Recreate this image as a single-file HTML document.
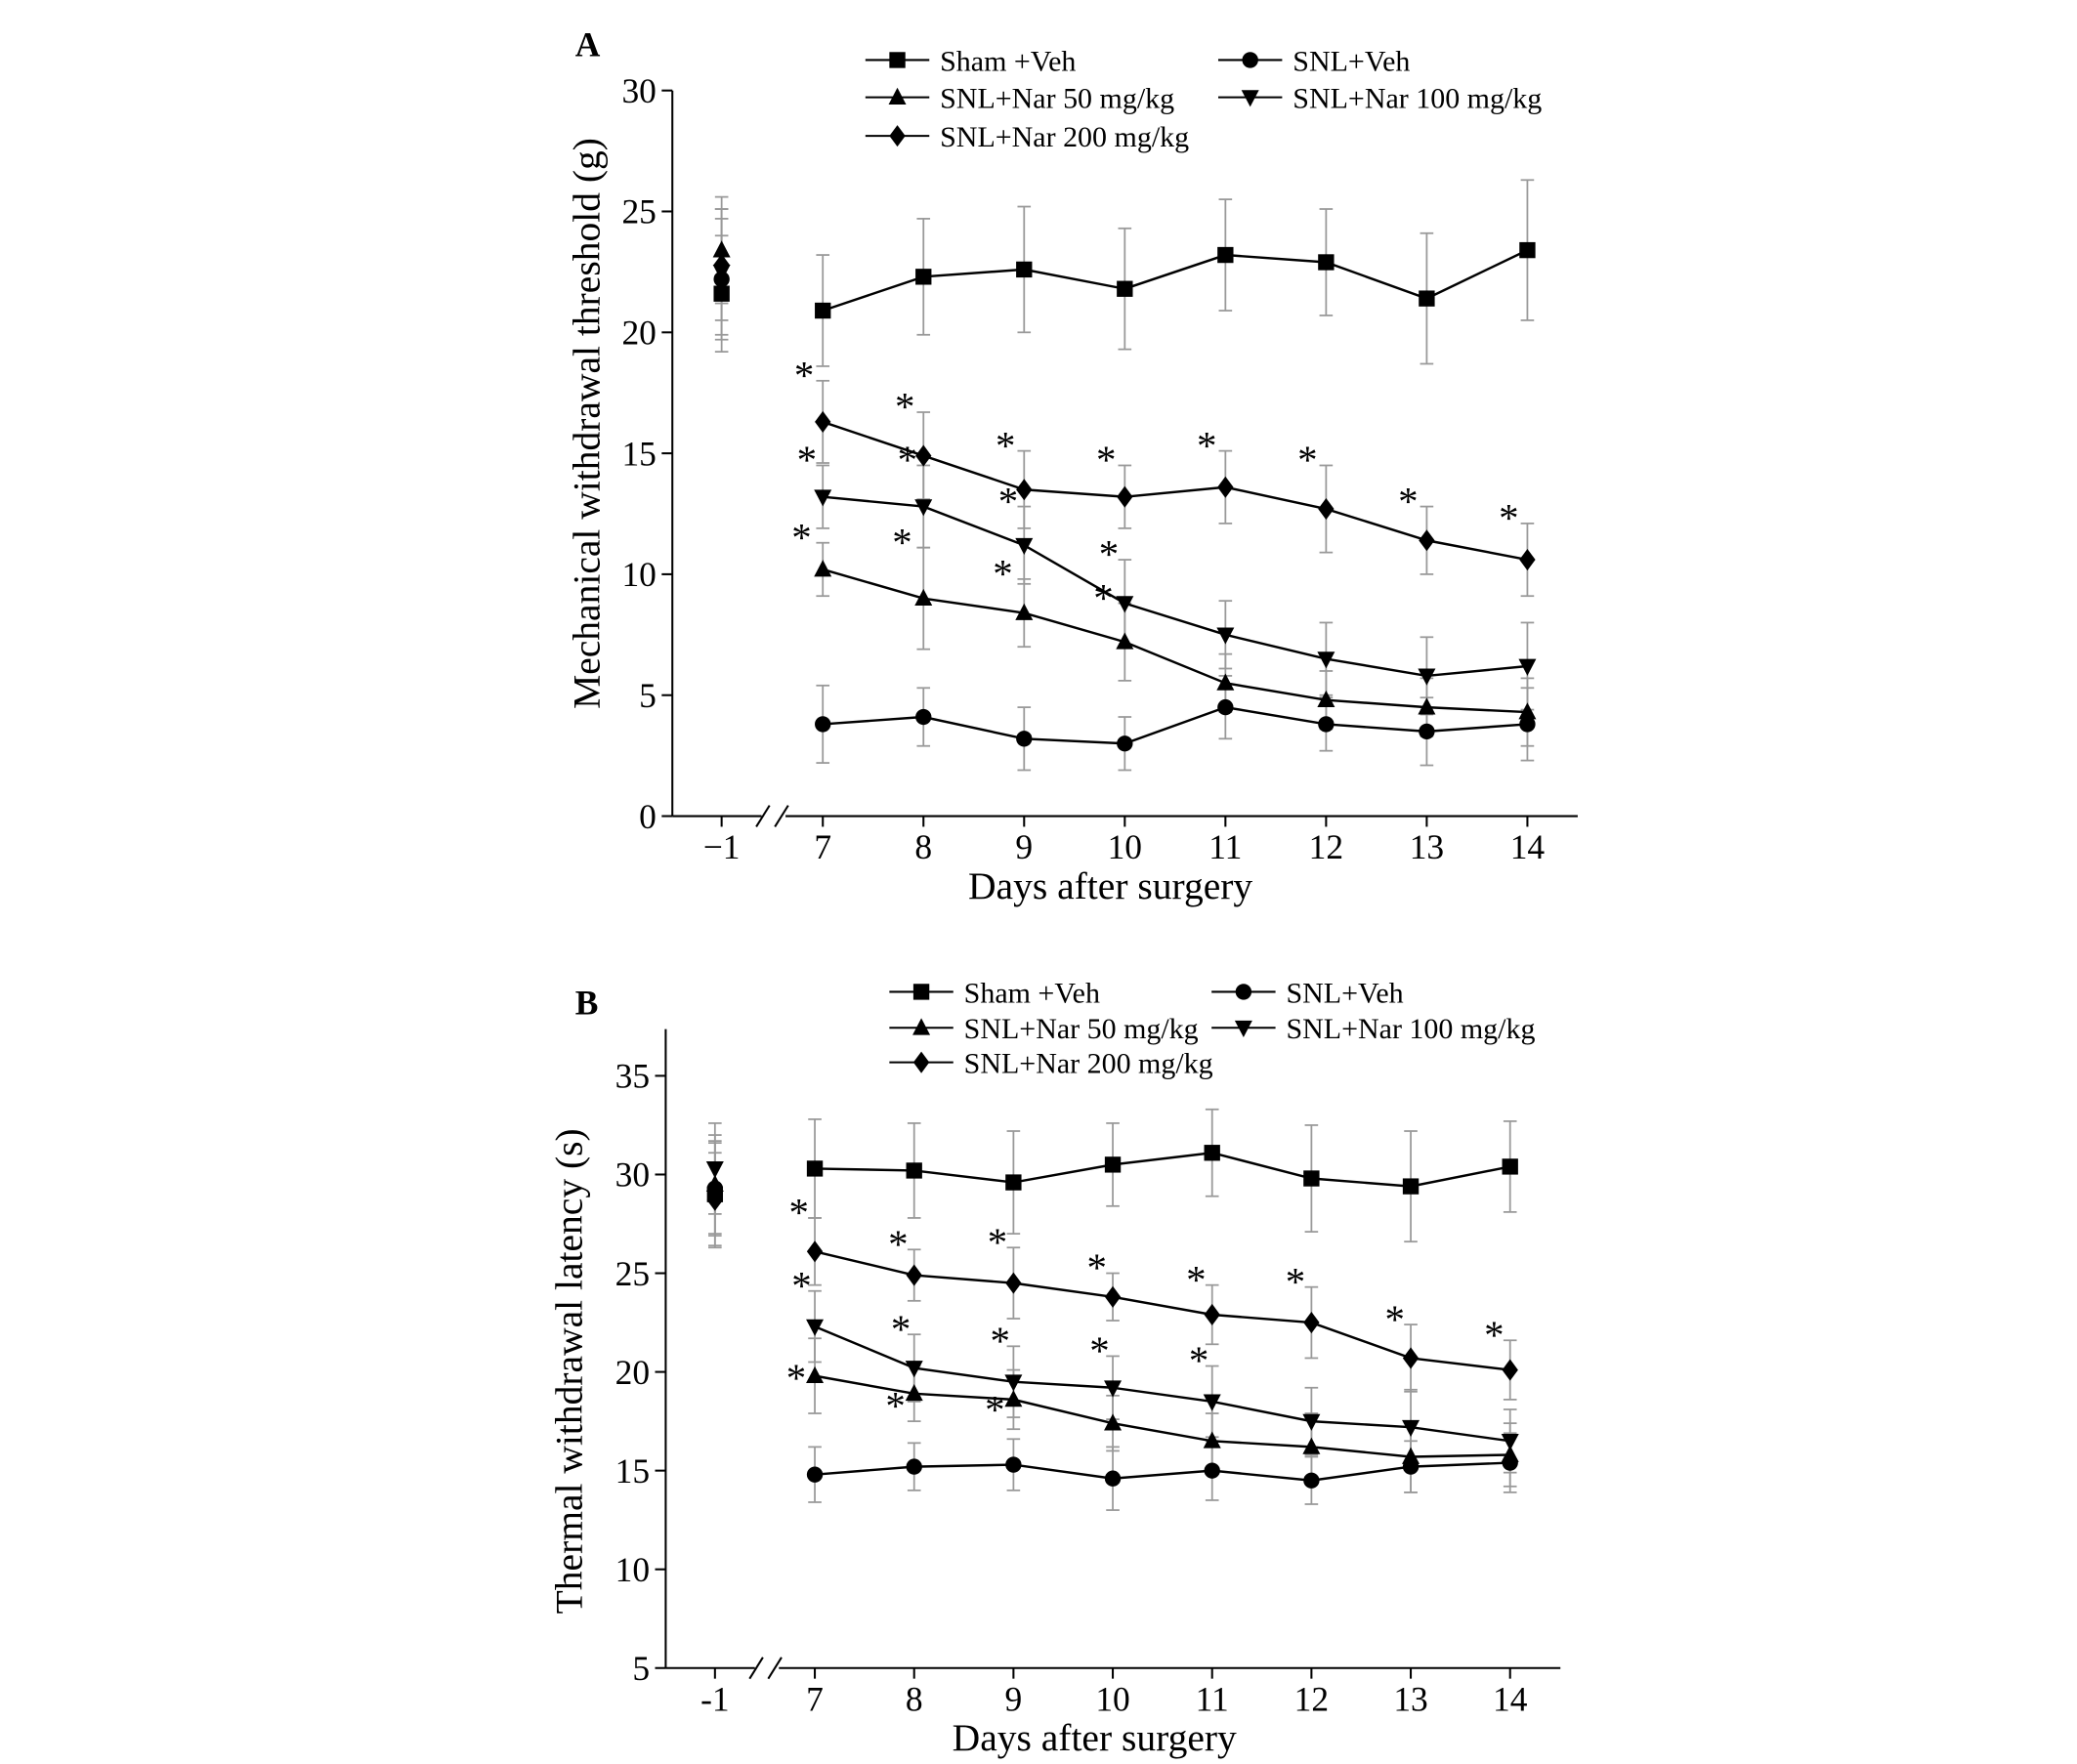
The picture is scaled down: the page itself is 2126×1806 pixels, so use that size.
<!DOCTYPE html>
<html><head><meta charset="utf-8"><style>
html,body{margin:0;padding:0;background:#fff}
svg{display:block}
text{font-family:"Liberation Serif",serif;fill:#000}
</style></head><body>
<svg id="chart" width="2126" height="1806" viewBox="0 0 1560 1325" xmlns="http://www.w3.org/2000/svg"></svg>
<script>
const days = [-1, 7, 8, 9, 10, 11, 12, 13, 14];
const seriesNames = ["Sham +Veh", "SNL+Veh", "SNL+Nar 50 mg/kg", "SNL+Nar 100 mg/kg", "SNL+Nar 200 mg/kg"];
const seriesMarkers = ["square", "circle", "up", "down", "diamond"];
// Panel A
const aSham = [21.6, 20.9, 22.3, 22.6, 21.8, 23.2, 22.9, 21.4, 23.4];
const aShamErr = [2.4, 2.3, 2.4, 2.6, 2.5, 2.3, 2.2, 2.7, 2.9];
const aVeh = [22.2, 3.8, 4.1, 3.2, 3.0, 4.5, 3.8, 3.5, 3.8];
const aVehErr = [2.5, 1.6, 1.2, 1.3, 1.1, 1.3, 1.1, 1.4, 1.5];
const aN50 = [23.4, 10.2, 9.0, 8.4, 7.2, 5.5, 4.8, 4.5, 4.3];
const aN50Err = [2.2, 1.1, 2.1, 1.4, 1.6, 1.2, 1.2, 1.2, 1.4];
const aN100 = [22.5, 13.2, 12.8, 11.2, 8.8, 7.5, 6.5, 5.8, 6.2];
const aN100Err = [2.6, 1.3, 1.7, 1.6, 1.8, 1.4, 1.5, 1.6, 1.8];
const aN200 = [22.8, 16.3, 14.9, 13.5, 13.2, 13.6, 12.7, 11.4, 10.6];
const aN200Err = [2.3, 1.7, 1.8, 1.6, 1.3, 1.5, 1.8, 1.4, 1.5];
const aStars50 = [7, 8, 9, 10];
const aStars100 = [7, 8, 9, 10];
const aStars200 = [7, 8, 9, 10, 11, 12, 13, 14];
const aYTicks = [0, 5, 10, 15, 20, 25, 30];
// Panel B
const bSham = [29.0, 30.3, 30.2, 29.6, 30.5, 31.1, 29.8, 29.4, 30.4];
const bShamErr = [2.6, 2.5, 2.4, 2.6, 2.1, 2.2, 2.7, 2.8, 2.3];
const bVeh = [29.3, 14.8, 15.2, 15.3, 14.6, 15.0, 14.5, 15.2, 15.4];
const bVehErr = [2.4, 1.4, 1.2, 1.3, 1.6, 1.5, 1.2, 1.3, 1.5];
const bN50 = [29.5, 19.8, 18.9, 18.6, 17.4, 16.5, 16.2, 15.7, 15.8];
const bN50Err = [2.5, 1.9, 1.4, 1.5, 1.4, 1.4, 1.7, 1.8, 1.6];
const bN100 = [30.3, 22.3, 20.2, 19.5, 19.2, 18.5, 17.5, 17.2, 16.5];
const bN100Err = [2.3, 1.8, 1.7, 1.8, 1.6, 1.8, 1.7, 1.9, 1.6];
const bN200 = [28.7, 26.1, 24.9, 24.5, 23.8, 22.9, 22.5, 20.7, 20.1];
const bN200Err = [2.4, 1.7, 1.3, 1.8, 1.2, 1.5, 1.8, 1.7, 1.5];
const bStars50 = [7, 8, 9];
const bStars100 = [7, 8, 9, 10, 11];
const bStars200 = [7, 8, 9, 10, 11, 12, 13, 14];
const bYTicks = [5, 10, 15, 20, 25, 30, 35];

const NS = "http://www.w3.org/2000/svg";
const svg = document.getElementById("chart");
function mk(tag, attrs, parent, txt) {
  const e = document.createElementNS(NS, tag);
  for (const k in attrs) e.setAttribute(k, attrs[k]);
  if (txt !== undefined) e.textContent = txt;
  (parent || svg).appendChild(e);
  return e;
}
function marker(g, type, x, y, s) {
  let e;
  if (type === "square") e = mk("rect", {x: x - s, y: y - s, width: 2 * s, height: 2 * s}, g);
  else if (type === "circle") e = mk("circle", {cx: x, cy: y, r: s}, g);
  else if (type === "up") e = mk("polygon", {points: `${x},${y - s * 1.2} ${x - s * 1.1},${y + s * 0.9} ${x + s * 1.1},${y + s * 0.9}`}, g);
  else if (type === "down") e = mk("polygon", {points: `${x},${y + s * 1.2} ${x - s * 1.1},${y - s * 0.9} ${x + s * 1.1},${y - s * 0.9}`}, g);
  else e = mk("polygon", {points: `${x},${y - s * 1.35} ${x + s},${y} ${x},${y + s * 1.35} ${x - s},${y}`}, g);
  e.setAttribute("fill", "#000");
  return e;
}

function panel(cfg) {
  const g = mk("g", {});
  
  
  const xs = d => d === -1 ? cfg.xm1 : cfg.x7 + (d - 7) * cfg.dx;
  const ys = v => cfg.y0 - (v - cfg.vmin) * cfg.py;
  // axes
  const ax = mk("g", {stroke: "#000", "stroke-width": 1.5, fill: "none"}, g);
  
  
  mk("line", {x1: cfg.ax, y1: cfg.y0, x2: cfg.ax, y2: cfg.ytop}, ax);
  mk("line", {x1: cfg.ax, y1: cfg.y0, x2: cfg.brk - 8, y2: cfg.y0}, ax);
  mk("line", {x1: cfg.brk + 10, y1: cfg.y0, x2: cfg.axr, y2: cfg.y0}, ax);
  mk("line", {x1: cfg.brk - 12, y1: cfg.y0 + 8, x2: cfg.brk - 2, y2: cfg.y0 - 8}, ax);
  mk("line", {x1: cfg.brk + 2, y1: cfg.y0 + 8, x2: cfg.brk + 12, y2: cfg.y0 - 8}, ax);
  cfg.yticks.forEach(t => {
    mk("line", {x1: cfg.ax - 8, y1: ys(t), x2: cfg.ax, y2: ys(t)}, ax);
    const tl = mk("text", {x: cfg.ax - 12, y: ys(t) + 9, "text-anchor": "end", "font-size": 26}, g, String(t));
    
    
  });
  days.forEach(d => {
    mk("line", {x1: xs(d), y1: cfg.y0, x2: xs(d), y2: cfg.y0 + 8}, ax);
    const tl = mk("text", {x: xs(d), y: cfg.y0 + 32, "text-anchor": "middle", "font-size": 26}, g, d === -1 ? cfg.m1 : String(d));
    
    
  });
  const xt = mk("text", {x: cfg.xtX, y: cfg.y0 + 62, "text-anchor": "middle", "font-size": 29}, g, "Days after surgery");
  
  
  const ytt = mk("text", {x: 0, y: 0, "text-anchor": "middle", "font-size": 29, transform: `translate(${cfg.ytX},${cfg.ytY}) rotate(-90)`}, g, cfg.ytitle);
  
  
  const pl = mk("text", {x: cfg.lblX, y: cfg.lblY, "font-size": 26, "font-weight": "bold"}, g, cfg.label);
  
  
  // error bars
  const eg = mk("g", {stroke: "#999", "stroke-width": 1.3}, g);
  
  
  cfg.series.forEach(s => {
    s.vals.forEach((v, i) => {
      const x = xs(days[i]), e = s.err[i];
      mk("line", {x1: x, y1: ys(v - e), x2: x, y2: ys(v + e)}, eg);
      mk("line", {x1: x - 5, y1: ys(v - e), x2: x + 5, y2: ys(v - e)}, eg);
      mk("line", {x1: x - 5, y1: ys(v + e), x2: x + 5, y2: ys(v + e)}, eg);
    });
  });
  // lines & markers
  cfg.series.forEach((s, k) => {
    const sg = mk("g", {}, g);
    
    
    const pts = s.vals.slice(1).map((v, i) => `${xs(days[i + 1])},${ys(v)}`).join(" ");
    mk("polyline", {points: pts, fill: "none", stroke: "#000", "stroke-width": 1.8}, sg);
    s.vals.forEach((v, i) => {
      const m = marker(sg, seriesMarkers[k], xs(days[i]), ys(v), 6);
      
      
    });
  });
  // stars
  cfg.stars.forEach(st => {
    st.days.forEach(d => {
      const i = days.indexOf(d);
      const v = st.s.vals[i] + st.s.err[i];
      const t = mk("text", {x: xs(d) - (st.off || 0), y: ys(v) + (st.dy || 6), "text-anchor": "middle", "font-size": 30}, g, "*");
      
      
    });
  });
  // legend
  const lg = mk("g", {}, g);
  
  
  seriesNames.forEach((n, k) => {
    const col = k === 0 || k === 2 || k === 4 ? 0 : 1;
    const row = Math.floor(k / 2);
    const x = cfg.legX[col], y = cfg.legY[row];
    const eg2 = mk("g", {}, lg);
    
    
    mk("line", {x1: x, y1: y, x2: x + 48, y2: y, stroke: "#000", "stroke-width": 1.5}, eg2);
    marker(eg2, seriesMarkers[k], x + 24, y, 6);
    mk("text", {x: x + 56, y: y + 8, "font-size": 22}, eg2, n);
  });
}

function mkSeries(v, e) { return {vals: v, err: e}; }
const A = [mkSeries(aSham, aShamErr), mkSeries(aVeh, aVehErr), mkSeries(aN50, aN50Err), mkSeries(aN100, aN100Err), mkSeries(aN200, aN200Err)];
panel({name: "panel-a", label: "A", lblX: 432, lblY: 42, ax: 505, axr: 1185, ytop: 68, y0: 613, vmin: 0, py: 18.17,
  xm1: 542, x7: 618, dx: 75.6, brk: 580, yticks: aYTicks, m1: "\u22121",
  ytitle: "Mechanical withdrawal threshold (g)", ytX: 450, ytY: 318, xtX: 834,
  series: A, legX: [650, 915], legY: [45, 73, 102],
  stars: [{s: A[2], days: aStars50, off: 16}, {s: A[3], days: aStars100, off: 12}, {s: A[4], days: aStars200, off: 14}]});
const B = [mkSeries(bSham, bShamErr), mkSeries(bVeh, bVehErr), mkSeries(bN50, bN50Err), mkSeries(bN100, bN100Err), mkSeries(bN200, bN200Err)];
panel({name: "panel-b", label: "B", lblX: 432, lblY: 762, ax: 500, axr: 1172, ytop: 773, y0: 1253, vmin: 5, py: 14.83,
  xm1: 537, x7: 612, dx: 74.6, brk: 575, yticks: bYTicks, m1: "-1",
  ytitle: "Thermal withdrawal latency (s)", ytX: 437, ytY: 1030, xtX: 822,
  series: B, legX: [668, 910], legY: [745, 772, 798],
  stars: [{s: B[2], days: bStars50, off: 14, dy: 40}, {s: B[3], days: bStars100, off: 10}, {s: B[4], days: bStars200, off: 12}]});
</script>
</body></html>
